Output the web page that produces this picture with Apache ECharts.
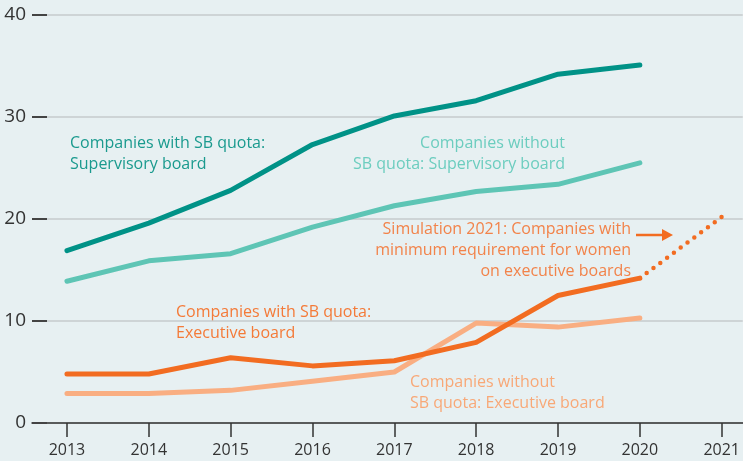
<!DOCTYPE html>
<html>
<head>
<meta charset="utf-8">
<script src="https://cdn.jsdelivr.net/npm/echarts@6/dist/echarts.min.js"></script>
<style>
html, body { margin: 0; padding: 0; background: #e7f0f2; }
#chart { width: 743px; height: 461px; }
</style>
</head>
<body>
<div id="chart"></div>
<script>
// years and values
var years = [2013, 2014, 2015, 2016, 2017, 2018, 2019, 2020];
var tickYears = [2013, 2014, 2015, 2016, 2017, 2018, 2019, 2020, 2021];
var sbQuotaSupervisory = [16.9, 19.6, 22.8, 27.3, 30.1, 31.6, 34.2, 35.1];
var noQuotaSupervisory = [13.9, 15.9, 16.6, 19.2, 21.3, 22.7, 23.4, 25.5];
var sbQuotaExecutive = [4.8, 4.8, 6.4, 5.6, 6.1, 7.9, 12.5, 14.2];
var noQuotaExecutive = [2.9, 2.9, 3.2, 4.1, 5.0, 9.8, 9.4, 10.3];
var simYears = [2020, 2021];
var simValues = [14.2, 20.2];

var font = '"Open Sans", sans-serif';

function pairs(xs, ys) {
	var out = [];
	for (var i = 0; i < xs.length; i++) {
		out.push([xs[i], ys[i]]);
	}
	return out;
}

function lineSeries(name, data, color) {
	return {
		name: name,
		type: 'line',
		data: data,
		symbol: 'none',
		silent: true,
		lineStyle: { color: color, width: 5, cap: 'round', join: 'round' }
	};
}

// annotation text, placed in pixels
function label(text, x, y, color, align) {
	return {
		type: 'text',
		x: x,
		y: y,
		silent: true,
		style: {
			text: text,
			fill: color,
			font: '16px ' + font,
			lineHeight: 21,
			align: align || 'left',
			verticalAlign: 'top'
		}
	};
}

var chart = echarts.init(document.getElementById('chart'));
var option = {
	backgroundColor: '#e7f0f2',
	animation: false,
	grid: { left: 32, right: 0, top: 15, bottom: 38 },
	xAxis: {
		type: 'value',
		min: 2012.573,
		max: 2021.257,
		splitLine: { show: false },
		axisLine: { show: true, lineStyle: { color: '#333', width: 1.5 } },
		axisTick: {
			show: true,
			customValues: tickYears,
			length: 14,
			lineStyle: { color: '#333', width: 1.5 }
		},
		axisLabel: {
			customValues: tickYears,
			formatter: function (v) { return String(v); },
			color: '#333',
			fontSize: 16,
			fontFamily: font,
			margin: 19
		}
	},
	yAxis: {
		type: 'value',
		min: 0,
		max: 40,
		interval: 10,
		axisLine: { show: false },
		axisTick: {
			show: true,
			inside: true,
			length: 15,
			lineStyle: { color: '#444', width: 2 }
		},
		splitLine: { lineStyle: { color: '#c6cbcc', width: 1.5 } },
		axisLabel: {
			color: '#333',
			fontSize: 19,
			fontFamily: font,
			margin: 6
		}
	},
	series: [
		lineSeries('Companies without SB quota: Executive board', pairs(years, noQuotaExecutive), '#f9ae82'),
		lineSeries('Companies with SB quota: Executive board', pairs(years, sbQuotaExecutive), '#f26c21'),
		lineSeries('Companies without SB quota: Supervisory board', pairs(years, noQuotaSupervisory), '#5ec5b5'),
		lineSeries('Companies with SB quota: Supervisory board', pairs(years, sbQuotaSupervisory), '#009287'),
		{
			name: 'Simulation 2021',
			type: 'line',
			data: pairs(simYears, simValues),
			symbol: 'none',
			silent: true,
			lineStyle: { color: '#f26c21', width: 4.5, type: [0, 8.5], cap: 'round' }
		}
	],
	graphic: [
		label('Companies with SB quota:\nSupervisory board', 70, 133, '#1a9a8e'),
		label('Companies without\nSB quota: Supervisory board', 565, 133, '#6ccdbf', 'right'),
		label('Simulation 2021: Companies with\nminimum requirement for women\non executive boards', 631, 219, '#f2834a', 'right'),
		label('Companies with SB quota:\nExecutive board', 176, 302, '#f47a38'),
		label('Companies without\nSB quota: Executive board', 410, 372, '#f8a877'),
		{
			type: 'line',
			silent: true,
			shape: { x1: 636, y1: 235, x2: 664, y2: 235 },
			style: { stroke: '#f26c21', lineWidth: 2.5 }
		},
		{
			type: 'polygon',
			silent: true,
			shape: { points: [[662, 229], [673, 235], [662, 241]] },
			style: { fill: '#f26c21' }
		}
	]
};
chart.setOption(option);
</script>
</body>
</html>
